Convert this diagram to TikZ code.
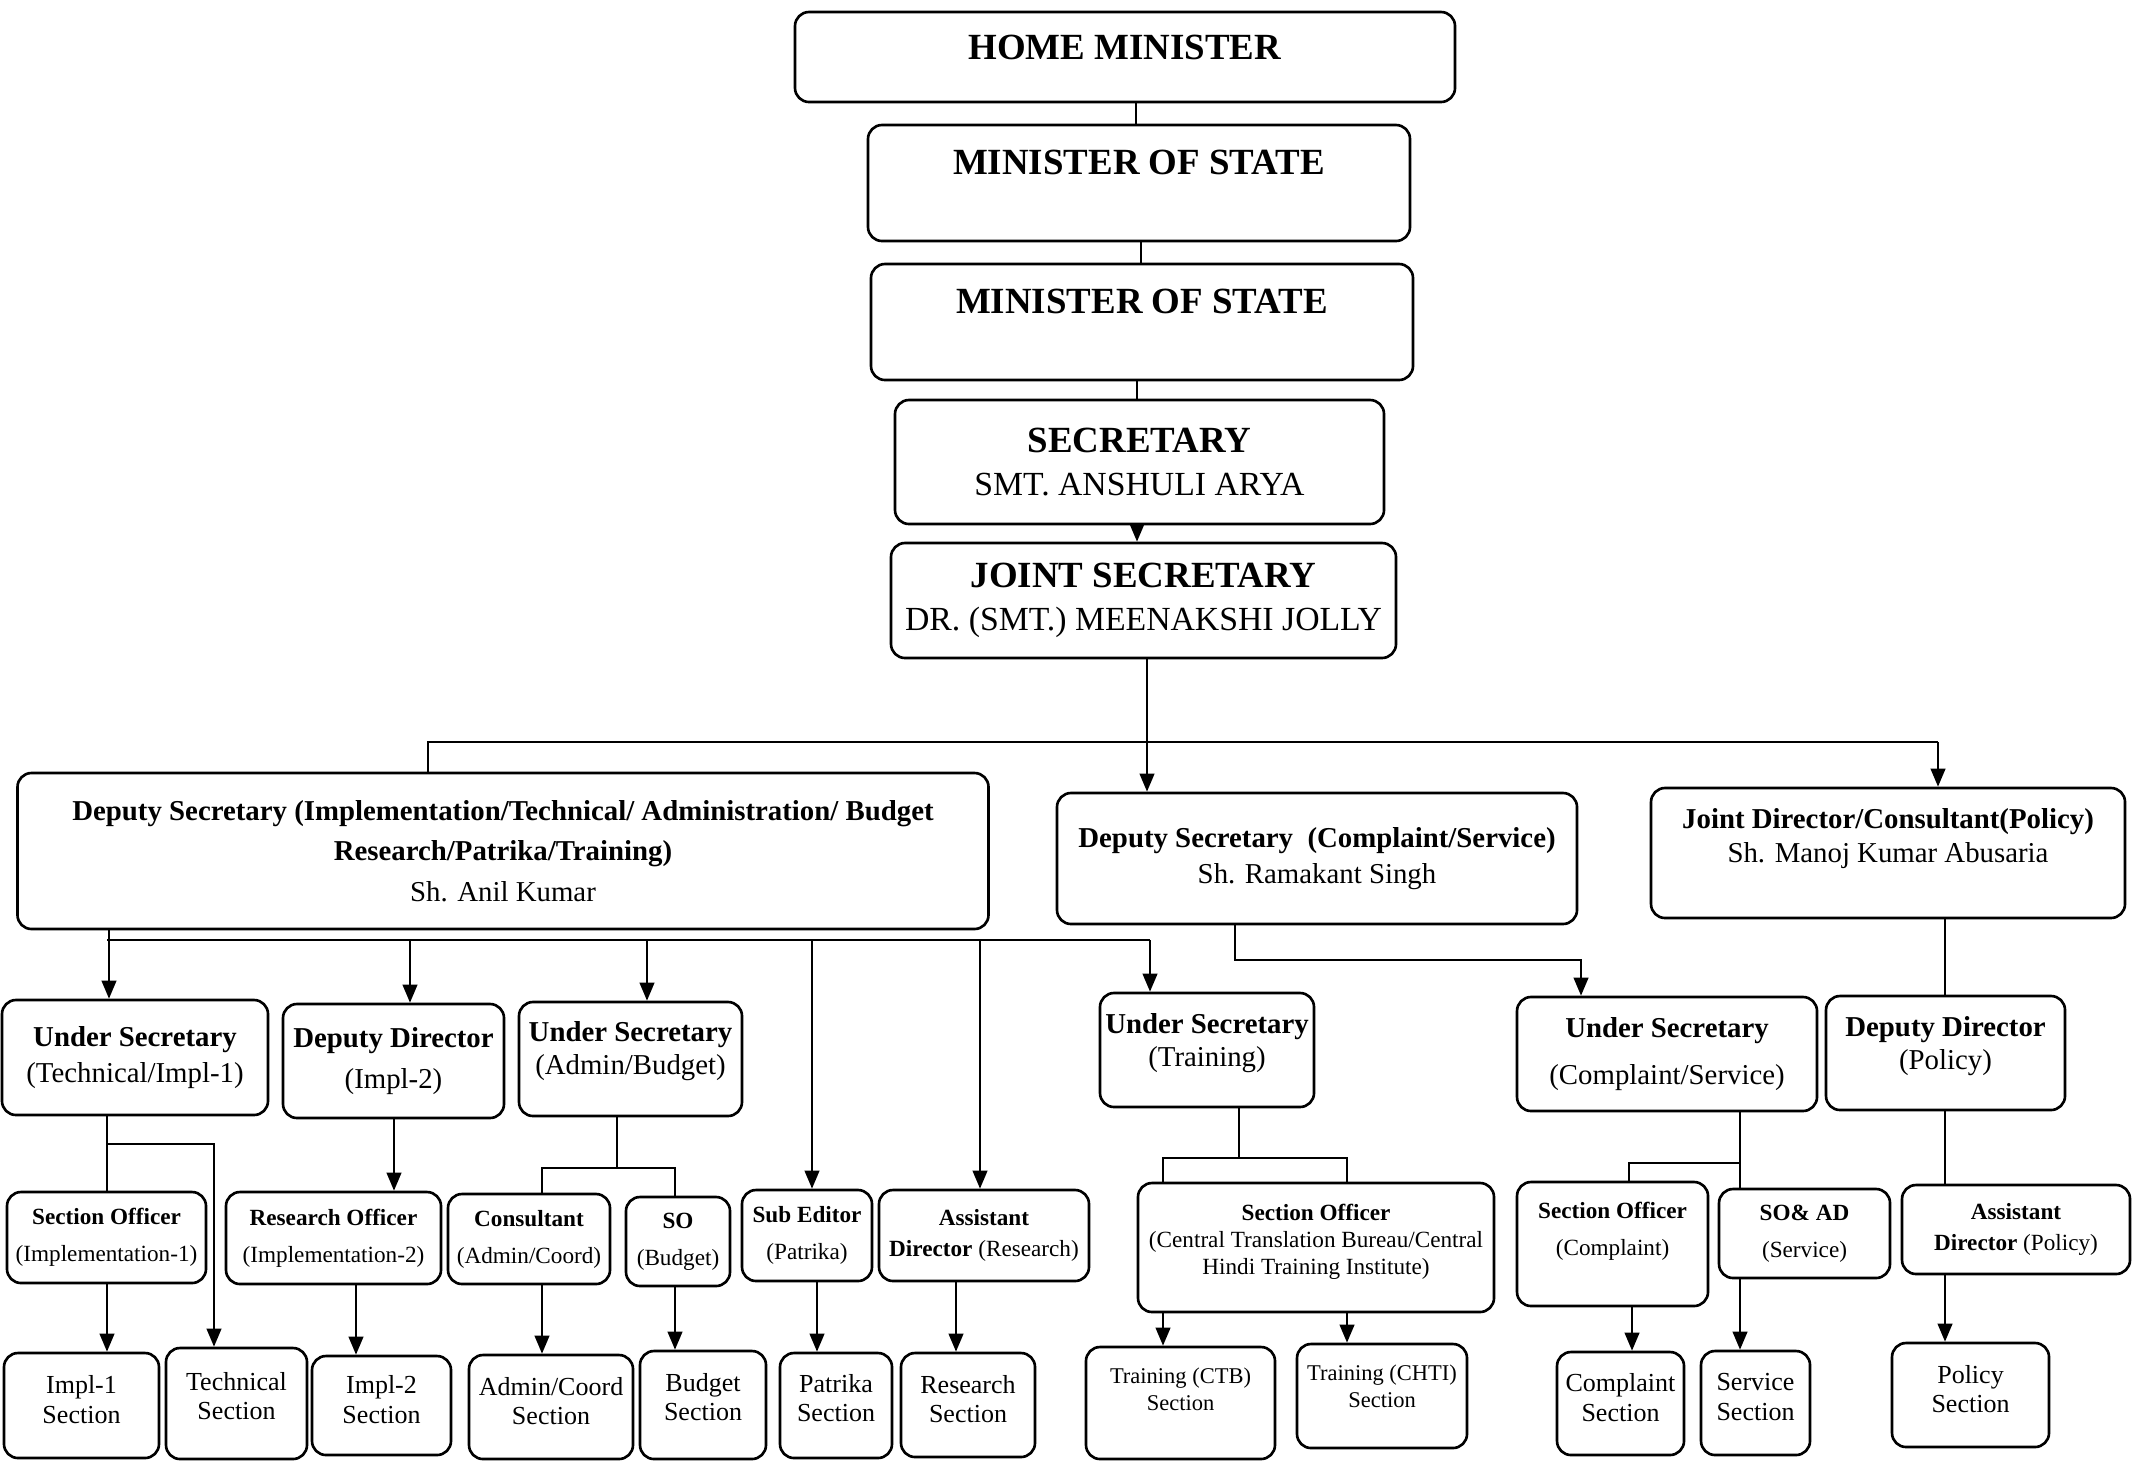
\documentclass[tikz,border=0pt]{standalone}
\usepackage{fontspec}
\setmainfont{Liberation Serif}
\usetikzlibrary{arrows.meta}
\tikzset{
	box/.style={draw, line width=0.75pt, rounded corners=0.14cm, align=center, inner sep=1pt},
	chief/.style={box, font=\fontsize{10.5}{12.2}\selectfont},
	head/.style={box, font=\fontsize{8.2}{10.4}\selectfont},
	officer/.style={box, font=\fontsize{6.6}{10.5}\selectfont},
	section/.style={box, font=\fontsize{7.4}{8.5}\selectfont, text depth=0.12cm},
	link/.style={line width=0.7pt},
	arr/.style={link, -{Triangle[length=1.8mm,width=1.45mm]}}
}
\newcommand{\holder}[1]{{\fontsize{9.6}{12}\selectfont #1}}

\begin{document}
\begin{tikzpicture}
	%%%%% START %%%%%
	\useasboundingbox (0,0) rectangle (21.34,-14.63);
	
	\node[chief, minimum width=6.6cm, minimum height=0.9cm, text depth=0.2cm] (hm) at (11.25,-0.57) {\textbf{HOME MINISTER}};
	\node[chief, minimum width=5.42cm, minimum height=1.16cm, text depth=0.42cm] (mosa) at (11.39,-1.83) {\textbf{MINISTER OF STATE}};
	\node[chief, minimum width=5.42cm, minimum height=1.16cm, text depth=0.42cm] (mosb) at (11.42,-3.22) {\textbf{MINISTER OF STATE}};
	\node[chief, minimum width=4.89cm, minimum height=1.24cm] (sec) at (11.395,-4.62) {\textbf{SECRETARY}\\\holder{SMT. ANSHULI ARYA}};
	\node[chief, minimum width=5.05cm, minimum height=1.15cm] (js) at (11.435,-6.005) {\textbf{JOINT SECRETARY}\\\holder{DR. (SMT.) MEENAKSHI JOLLY}};
	
	\node[head, minimum width=9.71cm, minimum height=1.56cm] (dsl) at (5.03,-8.51) {\textbf{Deputy Secretary (Implementation/Technical/ Administration/ Budget}\\[1.2pt]\textbf{Research/Patrika/Training)}\\[1.2pt]Sh. Anil Kumar};
	\node[head, minimum width=5.2cm, minimum height=1.31cm] (dsc) at (13.17,-8.585) {\textbf{Deputy Secretary~ (Complaint/Service)}\\Sh. Ramakant Singh};
	\node[head, minimum width=4.74cm, minimum height=1.3cm, text depth=0.35cm] (jd) at (18.88,-8.53) {\textbf{Joint Director/Consultant(Policy)}\\[-1pt]Sh. Manoj Kumar Abusaria};
	
	\node[head, minimum width=2.66cm, minimum height=1.15cm] (ust) at (1.35,-10.575) {\textbf{Under Secretary}\\(Technical/Impl-1)};
	\node[head, minimum width=2.21cm, minimum height=1.14cm] (ddi) at (3.935,-10.61) {\textbf{Deputy Director}\\[1.2pt](Impl-2)};
	\node[head, minimum width=2.23cm, minimum height=1.14cm, text depth=0.22cm] (usa) at (6.305,-10.59) {\textbf{Under Secretary}\\[-1pt](Admin/Budget)};
	\node[head, minimum width=2.14cm, minimum height=1.14cm, text depth=0.2cm] (ustr) at (12.07,-10.5) {\textbf{Under Secretary}\\[-1pt](Training)};
	\node[head, minimum width=3.0cm, minimum height=1.14cm] (usc) at (16.67,-10.54) {\textbf{Under Secretary}\\[2.9pt](Complaint/Service)};
	\node[head, minimum width=2.39cm, minimum height=1.14cm, text depth=0.2cm] (ddp) at (19.455,-10.53) {\textbf{Deputy Director}\\[-1pt](Policy)};
	
	\node[officer, minimum width=1.99cm, minimum height=0.91cm] (soi) at (1.065,-12.375) {\textbf{Section Officer}\\(Implementation-1)};
	\node[officer, minimum width=2.15cm, minimum height=0.92cm] (ro) at (3.335,-12.38) {\textbf{Research Officer}\\(Implementation-2)};
	\node[officer, minimum width=1.62cm, minimum height=0.9cm] (cons) at (5.29,-12.39) {\textbf{Consultant}\\(Admin/Coord)};
	\node[officer, minimum width=1.04cm, minimum height=0.89cm] (sob) at (6.78,-12.415) {\textbf{SO}\\(Budget)};
	\node[officer, minimum width=1.3cm, minimum height=0.91cm] (subed) at (8.07,-12.355) {\textbf{Sub Editor}\\(Patrika)};
	\node[officer, minimum width=2.1cm, minimum height=0.91cm] (adr) at (9.84,-12.355) {\textbf{Assistant}\\[-1.7pt]\textbf{Director} (Research)};
	\node[officer, minimum width=3.56cm, minimum height=1.29cm, text depth=0.16cm] (socb) at (13.16,-12.475) {\textbf{Section Officer}\\[-2.8pt](Central Translation Bureau/Central\\[-2.8pt]Hindi Training Institute)};
	\node[officer, minimum width=1.91cm, minimum height=1.24cm, text depth=0.31cm] (soc) at (16.125,-12.44) {\textbf{Section Officer}\\(Complaint)};
	\node[officer, minimum width=1.71cm, minimum height=0.89cm] (soad) at (18.045,-12.335) {\textbf{SO\& AD}\\(Service)};
	\node[officer, minimum width=2.28cm, minimum height=0.89cm] (adp) at (20.16,-12.295) {\textbf{Assistant}\\[-1.7pt]\textbf{Director} (Policy)};
	
	\node[section, minimum width=1.55cm, minimum height=1.05cm] (impl1) at (0.815,-14.055) {Impl-1\\Section};
	\node[section, minimum width=1.41cm, minimum height=1.11cm, text depth=0.15cm] (tech) at (2.365,-14.035) {Technical\\Section};
	\node[section, minimum width=1.39cm, minimum height=0.99cm] (impl2) at (3.815,-14.055) {Impl-2\\Section};
	\node[section, minimum width=1.64cm, minimum height=1.04cm] (admin) at (5.51,-14.07) {Admin/Coord\\Section};
	\node[section, minimum width=1.26cm, minimum height=1.08cm, text depth=0.16cm] (budget) at (7.03,-14.05) {Budget\\Section};
	\node[section, minimum width=1.12cm, minimum height=1.05cm, text depth=0.15cm] (patrika) at (8.36,-14.055) {Patrika\\Section};
	\node[section, minimum width=1.34cm, minimum height=1.04cm] (research) at (9.68,-14.05) {Research\\Section};
	\node[section, minimum width=1.89cm, minimum height=1.12cm, text depth=0.27cm, font=\fontsize{6.4}{7.7}\selectfont] (ctb) at (11.805,-14.03) {Training (CTB)\\Section};
	\node[section, minimum width=1.7cm, minimum height=1.04cm, text depth=0.19cm, font=\fontsize{6.4}{7.7}\selectfont] (chti) at (13.82,-13.96) {Training (CHTI)\\Section};
	\node[section, minimum width=1.27cm, minimum height=1.03cm] (compl) at (16.205,-14.035) {Complaint\\Section};
	\node[section, minimum width=1.09cm, minimum height=1.04cm] (serv) at (17.555,-14.03) {Service\\Section};
	\node[section, minimum width=1.57cm, minimum height=1.04cm] (policy) at (19.705,-13.95) {Policy\\Section};
	
	% ministers down to the joint secretary
	\draw[link] (11.36,0 |- hm.south) -- (11.36,0 |- mosa.north);
	\draw[link] (11.41,0 |- mosa.south) -- (11.41,0 |- mosb.north);
	\draw[link] (11.37,0 |- mosb.south) -- (11.37,0 |- sec.north);
	\draw[arr] (11.37,0 |- sec.south) -- (11.37,0 |- js.north);
	
	% joint secretary to the three branches
	\coordinate (busJ) at (0,-7.42);
	\draw[arr] (11.47,0 |- js.south) -- (11.47,0 |- dsc.north);
	\draw[link] (4.28,0 |- dsl.north) -- (4.28,0 |- busJ) -- (19.38,0 |- busJ);
	\draw[arr] (19.38,0 |- busJ) -- (19.38,0 |- jd.north);
	
	% deputy secretary (implementation ...)
	\coordinate (busD) at (0,-9.4);
	\draw[link] (1.07,0 |- busD) -- (11.5,0 |- busD);
	\draw[arr] (1.09,0 |- dsl.south) -- (1.09,0 |- ust.north);
	\draw[arr] (4.1,0 |- busD) -- (4.1,0 |- ddi.north);
	\draw[arr] (6.47,0 |- busD) -- (6.47,0 |- usa.north);
	\draw[arr] (8.12,0 |- busD) -- (8.12,0 |- subed.north);
	\draw[arr] (9.8,0 |- busD) -- (9.8,0 |- adr.north);
	\draw[arr] (11.5,0 |- busD) -- (11.5,0 |- ustr.north);
	
	% deputy secretary (complaint) and joint director
	\draw[arr] (12.35,0 |- dsc.south) -- (12.35,-9.6) -- (15.81,-9.6) -- (15.81,0 |- usc.north);
	\draw[link] (19.45,0 |- jd.south) -- (19.45,0 |- ddp.north);
	
	% under secretaries to officers
	\draw[link] (1.07,0 |- ust.south) -- (1.07,0 |- soi.north);
	\draw[arr] (1.07,-11.44) -- (2.14,-11.44) -- (2.14,0 |- tech.north);
	\draw[arr] (3.94,0 |- ddi.south) -- (3.94,0 |- ro.north);
	\draw[link] (6.17,0 |- usa.south) -- (6.17,-11.68);
	\draw[link] (5.42,0 |- cons.north) -- (5.42,-11.68) -- (6.75,-11.68) -- (6.75,0 |- sob.north);
	\draw[link] (12.39,0 |- ustr.south) -- (12.39,-11.58);
	\draw[link] (11.63,0 |- socb.north) -- (11.63,-11.58) -- (13.47,-11.58) -- (13.47,0 |- socb.north);
	\draw[link] (17.4,0 |- usc.south) -- (17.4,0 |- soad.north);
	\draw[link] (16.29,0 |- soc.north) -- (16.29,-11.63) -- (17.4,-11.63);
	\draw[link] (19.45,0 |- ddp.south) -- (19.45,0 |- adp.north);
	
	% officers to sections
	\draw[arr] (1.07,0 |- soi.south) -- (1.07,0 |- impl1.north);
	\draw[arr] (3.56,0 |- ro.south) -- (3.56,0 |- impl2.north);
	\draw[arr] (5.42,0 |- cons.south) -- (5.42,0 |- admin.north);
	\draw[arr] (6.75,0 |- sob.south) -- (6.75,0 |- budget.north);
	\draw[arr] (8.17,0 |- subed.south) -- (8.17,0 |- patrika.north);
	\draw[arr] (9.56,0 |- adr.south) -- (9.56,0 |- research.north);
	\draw[arr] (11.63,0 |- socb.south) -- (11.63,0 |- ctb.north);
	\draw[arr] (13.47,0 |- socb.south) -- (13.47,0 |- chti.north);
	\draw[arr] (16.32,0 |- soc.south) -- (16.32,0 |- compl.north);
	\draw[arr] (17.4,0 |- soad.south) -- (17.4,0 |- serv.north);
	\draw[arr] (19.45,0 |- adp.south) -- (19.45,0 |- policy.north);
	
	%%%%% END %%%%%
\end{tikzpicture}
\end{document}
